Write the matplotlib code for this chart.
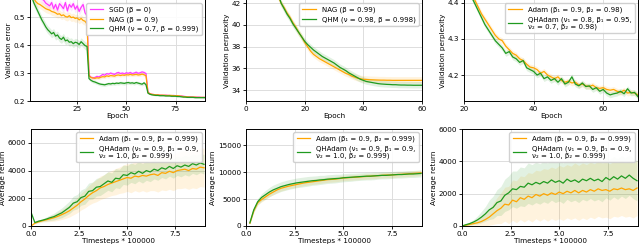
import numpy as np
import matplotlib
matplotlib.use("Agg")
import matplotlib.pyplot as plt

# ---- top row: image classification (validation error) ----
epochs_cls = np.arange(1, 91)
sgd_err = [0.66, 0.62, 0.60, 0.59, 0.58, 0.575, 0.565, 0.56, 0.55, 0.545,
           0.54, 0.552, 0.53, 0.545, 0.525, 0.548, 0.54, 0.53, 0.552, 0.522,
           0.545, 0.535, 0.548, 0.528, 0.54, 0.52, 0.535, 0.545, 0.515, 0.505,
           0.292, 0.285, 0.283, 0.284, 0.288, 0.286, 0.29, 0.295, 0.292, 0.298,
           0.296, 0.3, 0.297, 0.295, 0.3, 0.302, 0.298, 0.3, 0.297, 0.301,
           0.299, 0.302, 0.298, 0.3, 0.303, 0.299, 0.301, 0.304, 0.302, 0.298,
           0.232, 0.226, 0.224, 0.223, 0.222, 0.222, 0.221, 0.221, 0.22, 0.221,
           0.22, 0.22, 0.219, 0.22, 0.219, 0.219, 0.218, 0.218, 0.217, 0.216,
           0.215, 0.215, 0.215, 0.214, 0.214, 0.214, 0.214, 0.213, 0.213, 0.213]
nag_err = [0.62, 0.58, 0.565, 0.555, 0.548, 0.545, 0.54, 0.535, 0.53, 0.527,
           0.525, 0.52, 0.518, 0.515, 0.51, 0.512, 0.505, 0.508, 0.502, 0.5,
           0.505, 0.498, 0.5, 0.495, 0.497, 0.49, 0.495, 0.488, 0.485, 0.475,
           0.29, 0.284, 0.282, 0.281, 0.283, 0.282, 0.285, 0.287, 0.286, 0.29,
           0.288, 0.291, 0.29, 0.289, 0.292, 0.293, 0.291, 0.293, 0.292, 0.294,
           0.293, 0.295, 0.293, 0.294, 0.295, 0.293, 0.294, 0.296, 0.294, 0.29,
           0.23, 0.226, 0.224, 0.223, 0.222, 0.222, 0.221, 0.221, 0.221, 0.22,
           0.22, 0.22, 0.22, 0.219, 0.219, 0.219, 0.218, 0.217, 0.216, 0.215,
           0.215, 0.214, 0.214, 0.214, 0.214, 0.213, 0.213, 0.213, 0.213, 0.213]
qhm_err = [0.6, 0.57, 0.55, 0.535, 0.52, 0.505, 0.49, 0.478, 0.465, 0.455,
           0.448, 0.44, 0.445, 0.432, 0.436, 0.425, 0.42, 0.428, 0.415, 0.418,
           0.41, 0.412, 0.405, 0.41, 0.408, 0.402, 0.412, 0.405, 0.398, 0.395,
           0.28, 0.274, 0.27, 0.268, 0.265, 0.262, 0.26, 0.259, 0.258, 0.26,
           0.262, 0.261, 0.263, 0.262, 0.264, 0.263, 0.265, 0.264, 0.263, 0.265,
           0.266, 0.264, 0.265, 0.263, 0.266, 0.264, 0.262, 0.26, 0.265, 0.258,
           0.228, 0.224, 0.222, 0.221, 0.22, 0.22, 0.219, 0.219, 0.219, 0.218,
           0.218, 0.218, 0.217, 0.217, 0.217, 0.216, 0.216, 0.215, 0.214, 0.214,
           0.213, 0.213, 0.213, 0.213, 0.212, 0.212, 0.212, 0.212, 0.212, 0.212]
err_band = [0.014] * 30 + [0.006] * 30 + [0.002] * 30

# ---- top middle: language model (NAG vs QHM) ----
epochs_lm = np.arange(1, 61)
nag_ppl = [80, 65, 58, 54, 51, 48.8, 47, 45.6, 44.4, 43.4,
           42.6, 42.0, 41.6, 41.1, 40.7, 40.2, 39.8, 39.3, 38.9, 38.4,
           38.0, 37.6, 37.3, 37.1, 36.9, 36.75, 36.6, 36.45, 36.3, 36.15,
           36.0, 35.85, 35.7, 35.55, 35.45, 35.3, 35.2, 35.1, 35.05, 35.0,
           34.98, 34.96, 34.95, 34.94, 34.93, 34.92, 34.92, 34.91, 34.91, 34.9,
           34.9, 34.9, 34.9, 34.9, 34.9, 34.9, 34.9, 34.9, 34.9, 34.9]
qhm_ppl = [80, 66, 59, 55, 52, 49.5, 47.5, 46.0, 44.8, 43.7,
           42.8, 42.0, 41.5, 41.0, 40.6, 40.1, 39.7, 39.3, 38.9, 38.5,
           38.2, 37.95, 37.7, 37.5, 37.3, 37.1, 36.95, 36.8, 36.65, 36.5,
           36.3, 36.1, 35.95, 35.8, 35.6, 35.45, 35.3, 35.15, 35.0, 34.9,
           34.8, 34.75, 34.7, 34.65, 34.6, 34.57, 34.55, 34.53, 34.52, 34.5,
           34.5, 34.48, 34.47, 34.47, 34.46, 34.46, 34.45, 34.45, 34.45, 34.45]
ppl_band = [0.3] * 60

# ---- top right: language model (Adam vs QHAdam) ----
epochs_lm2 = np.arange(20, 71)
adam_ppl = [4.47, 4.45, 4.43, 4.41, 4.39, 4.37, 4.355, 4.34, 4.325, 4.31,
            4.30, 4.295, 4.28, 4.27, 4.26, 4.255, 4.245, 4.24, 4.23, 4.222,
            4.22, 4.215, 4.205, 4.21, 4.2, 4.195, 4.19, 4.195, 4.185, 4.18,
            4.183, 4.178, 4.18, 4.172, 4.175, 4.17, 4.168, 4.172, 4.165, 4.163,
            4.165, 4.16, 4.158, 4.16, 4.155, 4.152, 4.158, 4.15, 4.152, 4.15,
            4.145]
qhadam_ppl = [4.46, 4.44, 4.42, 4.40, 4.38, 4.36, 4.34, 4.325, 4.31, 4.295,
              4.285, 4.275, 4.26, 4.265, 4.25, 4.245, 4.235, 4.24, 4.22, 4.215,
              4.21, 4.2, 4.205, 4.19, 4.195, 4.185, 4.19, 4.18, 4.19, 4.175,
              4.18, 4.195, 4.175, 4.17, 4.178, 4.168, 4.17, 4.16, 4.165, 4.155,
              4.16, 4.15, 4.145, 4.148, 4.15, 4.155, 4.148, 4.162, 4.15, 4.152,
              4.14]
ppl2_band = [0.008] * 51

# ---- bottom row: reinforcement learning (average return) ----
steps = np.arange(46) * 0.2
adam_a = [0, 200, 300, 380, 450, 520, 600, 700, 820, 950,
          1100, 1300, 1500, 1750, 1950, 2200, 2400, 2550, 2750, 2850,
          3000, 3100, 3200, 3300, 3400, 3500, 3450, 3600, 3550, 3650,
          3600, 3700, 3750, 3650, 3850, 3800, 3950, 3850, 4000, 4050,
          4100, 4000, 4150, 4100, 4250, 4200]
qhadam_a = [1000, 250, 350, 420, 500, 600, 680, 820, 950, 1150,
            1350, 1650, 1750, 2050, 2150, 2500, 2550, 2800, 2850, 3050,
            3250, 3150, 3450, 3400, 3700, 3650, 3850, 3750, 3950, 3800,
            4000, 3900, 4100, 4000, 4200, 4100, 4300, 4150, 4350, 4250,
            4400, 4300, 4500, 4400, 4550, 4450]
adam_a_band = [0, 50, 80, 100, 150, 200, 250, 300, 350, 400,
               450, 500, 550, 600, 650, 700, 750, 800, 850, 850,
               900, 900, 950, 950, 1000, 1000, 1050, 1050, 1100, 1100,
               1150, 1150, 1200, 1200, 1250, 1250, 1300, 1300, 1300, 1350,
               1350, 1350, 1400, 1400, 1400, 1400]
qhadam_a_band = [0, 50, 80, 100, 150, 200, 250, 300, 350, 400,
                 450, 500, 520, 550, 580, 600, 620, 640, 650, 660,
                 670, 680, 690, 700, 700, 700, 700, 700, 700, 700,
                 700, 700, 700, 700, 700, 700, 700, 700, 700, 700,
                 700, 700, 700, 700, 700, 700]

adam_b = [np.nan, 500, 2800, 4300, 4900, 5400, 5900, 6300, 6700, 7000,
          7200, 7400, 7550, 7700, 7850, 8000, 8100, 8200, 8300, 8400,
          8500, 8600, 8650, 8700, 8800, 8900, 8950, 9000, 9050, 9100,
          9150, 9200, 9250, 9300, 9350, 9400, 9450, 9450, 9500, 9550,
          9600, 9650, 9700, 9750, 9800, 9850]
qhadam_b = [np.nan, 600, 3000, 4500, 5300, 5800, 6300, 6700, 7000, 7300,
            7500, 7700, 7850, 8000, 8100, 8200, 8300, 8400, 8450, 8550,
            8600, 8700, 8750, 8800, 8850, 8950, 9000, 9050, 9100, 9150,
            9200, 9250, 9250, 9300, 9350, 9400, 9400, 9450, 9500, 9550,
            9550, 9600, 9650, 9650, 9700, 9750]
adam_b_band = [0, 100, 300, 400, 450, 500, 500, 500, 500, 500,
               500, 500, 500, 500, 500, 500, 500, 500, 500, 500,
               500, 500, 500, 500, 500, 500, 500, 500, 500, 500,
               500, 500, 500, 500, 500, 500, 500, 500, 500, 500,
               500, 500, 500, 500, 500, 500]
qhadam_b_band = [0, 150, 400, 600, 700, 800, 850, 900, 900, 900,
                 900, 900, 900, 900, 900, 900, 900, 850, 850, 850,
                 800, 800, 800, 800, 750, 750, 750, 750, 700, 700,
                 700, 700, 700, 700, 650, 650, 650, 650, 650, 650,
                 650, 650, 650, 650, 650, 650]

adam_c = [0, 50, 100, 150, 200, 280, 400, 550, 750, 950,
          1100, 1350, 1300, 1600, 1500, 1750, 1650, 1850, 1750, 1950,
          1850, 2000, 1900, 2050, 1950, 2100, 2000, 2150, 2050, 2200,
          2050, 2200, 2100, 2250, 2150, 2300, 2200, 2250, 2150, 2300,
          2250, 2350, 2250, 2300, 2200, 2350]
qhadam_c = [0, 80, 150, 250, 380, 550, 750, 1000, 1150, 1450,
            1550, 1900, 2050, 2300, 2250, 2450, 2400, 2650, 2550, 2700,
            2600, 2750, 2650, 2850, 2700, 2800, 2650, 2900, 2750, 2850,
            2700, 2900, 2800, 2950, 2800, 2900, 2750, 3000, 2850, 3050,
            2900, 3100, 2950, 3150, 2950, 2800]
adam_c_band = [0, 50, 100, 150, 200, 300, 400, 500, 650, 800,
               950, 1050, 1150, 1250, 1300, 1350, 1400, 1450, 1500, 1500,
               1550, 1550, 1600, 1600, 1600, 1650, 1650, 1650, 1650, 1700,
               1700, 1700, 1700, 1700, 1700, 1700, 1700, 1700, 1700, 1700,
               1700, 1700, 1700, 1700, 1700, 1700]
qhadam_c_band = [0, 50, 100, 150, 250, 350, 450, 600, 700, 800,
                 900, 1000, 1050, 1100, 1150, 1200, 1200, 1250, 1250, 1250,
                 1250, 1250, 1250, 1250, 1250, 1250, 1250, 1250, 1250, 1250,
                 1250, 1250, 1250, 1250, 1250, 1250, 1250, 1250, 1250, 1250,
                 1250, 1250, 1250, 1250, 1250, 1250]

adam_rl_label = "Adam (β₁ = 0.9, β₂ = 0.999)"
qhadam_rl_label = "QHAdam (ν₁ = 0.9, β₁ = 0.9,\nν₂ = 1.0, β₂ = 0.999)"

MAGENTA = "#ff3cff"
ORANGE = "#ffa500"
GREEN = "#1f9a1f"
FS = 5.2

plt.rcParams["font.family"] = "DejaVu Sans"
plt.rcParams["font.size"] = FS


def draw(ax, x, y, band, color, label):
    y = np.asarray(y, dtype=float)
    band = np.asarray(band, dtype=float)
    ax.fill_between(x, y - band, y + band, color=color, alpha=0.13, lw=0)
    ax.plot(x, y, color=color, lw=0.9, label=label)


def style(ax, xlabel, ylabel, top_row):
    ax.grid(True, color="#dddddd", lw=0.7)
    ax.set_axisbelow(True)
    ax.set_xlabel(xlabel, fontsize=FS, labelpad=0.5)
    ax.set_ylabel(ylabel, fontsize=FS, labelpad=1)
    ax.tick_params(labelsize=FS, length=2.5, width=0.6, pad=1.2)
    for s in ax.spines.values():
        s.set_linewidth(0.7)
    if top_row:
        ax.spines["top"].set_visible(False)
    ax.legend(loc="upper right", fontsize=5.0, handlelength=2.0,
              borderpad=0.45, labelspacing=0.45, framealpha=0.9,
              edgecolor="#cccccc", fancybox=True)


fig = plt.figure(figsize=(6.4, 2.46), dpi=100)
W, H = 640.0, 246.0


def panel(x0, x1, y0, y1):
    return fig.add_axes([x0 / W, 1 - y1 / H, (x1 - x0) / W, (y1 - y0) / H])


# top left
ax = panel(30, 205, 0, 101)
draw(ax, epochs_cls, sgd_err, err_band, MAGENTA, "SGD (β = 0)")
draw(ax, epochs_cls, nag_err, err_band, ORANGE, "NAG (β = 0.9)")
draw(ax, epochs_cls, qhm_err, err_band, GREEN, "QHM (ν = 0.7, β = 0.999)")
ax.set_xlim(1, 90)
ax.set_ylim(0.2, 0.561)
ax.set_xticks([25, 50, 75])
ax.set_yticks([0.2, 0.3, 0.4, 0.5])
style(ax, "Epoch", "Validation error", True)

# top middle
ax = panel(246, 422, 0, 101)
draw(ax, epochs_lm, nag_ppl, ppl_band, ORANGE, "NAG (β = 0.99)")
draw(ax, epochs_lm, qhm_ppl, ppl_band, GREEN, "QHM (ν = 0.98, β = 0.998)")
ax.set_xlim(0, 60)
ax.set_ylim(33, 42.3)
ax.set_xticks([0, 20, 40, 60])
ax.set_yticks([34, 36, 38, 40, 42])
style(ax, "Epoch", "Validation perplexity", True)

# top right
ax = panel(464, 638, 0, 101)
draw(ax, epochs_lm2, adam_ppl, ppl2_band, ORANGE, "Adam (β₁ = 0.9, β₂ = 0.98)")
draw(ax, epochs_lm2, qhadam_ppl, ppl2_band, GREEN,
     "QHAdam (ν₁ = 0.8, β₁ = 0.95,\nν₂ = 0.7, β₂ = 0.98)")
ax.set_xlim(20, 70)
ax.set_ylim(4.128, 4.408)
ax.set_xticks([20, 40, 60])
ax.set_yticks([4.2, 4.3, 4.4])
style(ax, "Epoch", "Validation perplexity", True)

# bottom row
rl = [
    (31, 205, adam_a, adam_a_band, qhadam_a, qhadam_a_band, 7000, [0, 2000, 4000, 6000]),
    (246, 422, adam_b, adam_b_band, qhadam_b, qhadam_b_band, 18000, [0, 5000, 10000, 15000]),
    (462, 638, adam_c, adam_c_band, qhadam_c, qhadam_c_band, 6000, [0, 2000, 4000, 6000]),
]
for x0, x1, ya, ba, yq, bq, ytop, yt in rl:
    ax = panel(x0, x1, 129, 226)
    draw(ax, steps, ya, ba, ORANGE, adam_rl_label)
    draw(ax, steps, yq, bq, GREEN, qhadam_rl_label)
    ax.set_xlim(0, 9.05)
    ax.set_ylim(0, ytop)
    ax.set_xticks([0, 2.5, 5.0, 7.5])
    ax.set_yticks(yt)
    style(ax, "Timesteps * 100000", "Average return", False)

fig.savefig("out.png", dpi=100)
